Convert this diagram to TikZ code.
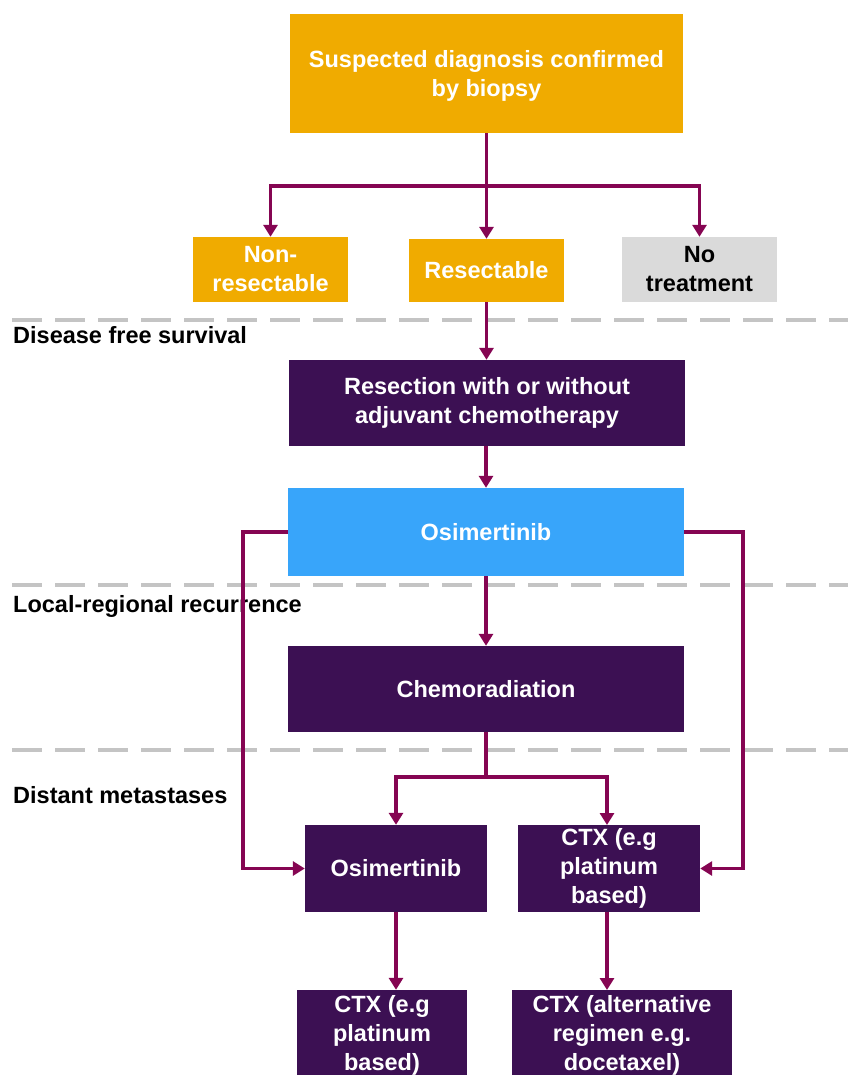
\documentclass[tikz,border=0pt]{standalone}
\usepackage{fontspec}
\setmainfont{Liberation Sans}
\usetikzlibrary{arrows.meta}
\definecolor{aorange}{HTML}{F0AB00}
\definecolor{apurple}{HTML}{3C1053}
\definecolor{ablue}{HTML}{38A5FA}
\definecolor{agrey}{HTML}{DADADA}
\definecolor{aline}{HTML}{850552}
\definecolor{adash}{HTML}{C4C4C4}
\begin{document}
\begin{tikzpicture}[x=1pt,y=-1pt,
  box/.style={rectangle,inner sep=0pt,align=center,text=white,
    font=\bfseries\fontsize{23.5}{29}\selectfont},
  orangebox/.style={box,fill=aorange},
  purplebox/.style={box,fill=apurple},
  bluebox/.style={box,fill=ablue},
  greybox/.style={box,fill=agrey,text=black},
  phase/.style={font=\bfseries\fontsize{23.5}{29}\selectfont,anchor=west,inner sep=0pt},
  conn/.style={draw=aline,line width=3.5pt},
  arr/.style={conn,-{Triangle[width=14pt,length=12pt]}},
  sep/.style={draw=adash,line width=3.5pt,dash pattern=on 30pt off 13pt}]
\clip (0,0) rectangle (848,1075);
\fill[white] (0,0) rectangle (848,1075);
% separators
\draw[sep] (12,320) -- (848,320);
\draw[sep] (12,585) -- (848,585);
\draw[sep] (12,750) -- (848,750);
% phase labels
\node[phase] (l1) at (13,335) {Disease free survival};
\node[phase] (l2) at (13,606) {Local-regional recurrence};
\node[phase] (l3) at (13,795) {Distant metastases};
% boxes
\node[orangebox,minimum width=393pt,minimum height=119pt] (top) at (486.5,73.5) {\\[-8pt]Suspected diagnosis confirmed\\by biopsy};
\node[orangebox,minimum width=155pt,minimum height=65pt] (nonres) at (270.5,269.5) {Non-\\resectable};
\node[orangebox,minimum width=155pt,minimum height=63pt] (res) at (486.5,270.5) {Resectable};
\node[greybox,minimum width=155pt,minimum height=65pt] (notr) at (699.5,269.5) {No\\treatment};
\node[purplebox,minimum width=396pt,minimum height=86pt] (resect) at (487,403) {Resection with or without\\adjuvant chemotherapy};
\node[bluebox,minimum width=396pt,minimum height=88pt] (osim) at (486,532) {Osimertinib};
\node[purplebox,minimum width=396pt,minimum height=86pt] (chemo) at (486,689) {Chemoradiation};
\node[purplebox,minimum width=182pt,minimum height=87pt] (osimb) at (396,868.5) {Osimertinib};
\node[purplebox,minimum width=182pt,minimum height=87pt] (ctxa) at (609,868.5) {CTX (e.g\\platinum\\based)};
\node[purplebox,minimum width=170pt,minimum height=90pt] (ctxb) at (382,1035) {CTX (e.g\\platinum\\based)};
\node[purplebox,minimum width=220pt,minimum height=90pt] (ctxc) at (622,1035) {CTX (alternative\\regimen e.g.\\docetaxel)};
% connectors
\draw[conn] (top.south) -- (486.5,186) coordinate (s1);
\draw[arr] (s1) -| (nonres.north);
\draw[arr] (s1) -| (notr.north);
\draw[arr] (s1) -- (res.north);
\draw[arr] (res.south) -- (res.south |- resect.north);
\draw[arr] (resect.south -| osim.north) -- (osim.north);
\draw[arr] (osim.south) -- (chemo.north);
\draw[conn] (chemo.south) -- (486,777) coordinate (s2);
\draw[arr] (s2) -| (osimb.north);
\draw[arr] (s2) -| (607,825);
\draw[arr] (osim.west) -- (243,532) |- (osimb.west);
\draw[arr] (osim.east) -- (743,532) |- (ctxa.east);
\draw[arr] (osimb.south) -- (osimb.south |- ctxb.north);
\draw[arr] (607,912) -- (607,990);
\end{tikzpicture}
\end{document}
